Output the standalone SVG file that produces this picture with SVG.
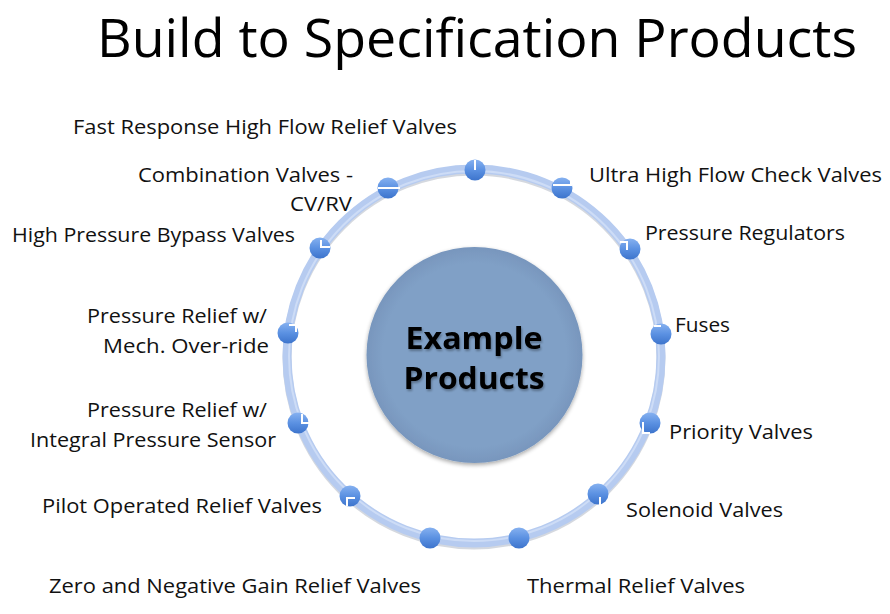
<svg xmlns="http://www.w3.org/2000/svg" width="890" height="614" viewBox="0 0 890 614">
<defs>
  <linearGradient id="dotGrad" x1="0" y1="0" x2="0" y2="1">
    <stop offset="0" stop-color="#86b1f0"/>
    <stop offset="0.5" stop-color="#5b91e2"/>
    <stop offset="1" stop-color="#3d74cc"/>
  </linearGradient>
  <radialGradient id="hubGrad" cx="0.5" cy="0.5" r="0.5">
    <stop offset="0.85" stop-color="#80a0c6"/>
    <stop offset="1" stop-color="#7896bd"/>
  </radialGradient>
  <filter id="shadow" x="-20%" y="-20%" width="140%" height="140%">
    <feGaussianBlur in="SourceAlpha" stdDeviation="2"/>
    <feOffset dx="0" dy="2" result="b"/>
    <feComponentTransfer><feFuncA type="linear" slope="0.35"/></feComponentTransfer>
    <feMerge><feMergeNode/><feMergeNode in="SourceGraphic"/></feMerge>
  </filter>
  <filter id="tshadow" x="-10%" y="-10%" width="120%" height="140%">
    <feGaussianBlur in="SourceAlpha" stdDeviation="1"/>
    <feOffset dx="1" dy="1.5"/>
    <feComponentTransfer><feFuncA type="linear" slope="0.3"/></feComponentTransfer>
    <feMerge><feMergeNode/><feMergeNode in="SourceGraphic"/></feMerge>
  </filter>
</defs>
<style>
  .title { font-family: "Open Sans", "Liberation Sans", sans-serif; font-size: 53px; fill: #000; }
  .lbl { font-family: "Open Sans", "Liberation Sans", sans-serif; font-size: 20px; fill: #111; }
  .hub { font-family: "Open Sans", "Liberation Sans", sans-serif; font-size: 30px; font-weight: bold; fill: #000; }
  .dot { fill: url(#dotGrad); }
  .notch { fill: none; stroke: #ffffff; stroke-width: 2; }
</style>
<rect width="890" height="614" fill="#ffffff"/>
<text class="title" x="97" y="57" textLength="760" lengthAdjust="spacingAndGlyphs">Build to Specification Products</text>

<g id="connectors">
  <circle cx="474" cy="358" r="187" fill="none" stroke="#c2c8d2" stroke-width="9" opacity="0.7"/>
  <circle cx="474" cy="356" r="187" fill="none" stroke="#b6cbf0" stroke-width="9"/>
  <circle cx="474" cy="356" r="185" fill="none" stroke="#cddcf6" stroke-width="2"/>
</g>

<g id="hub">
  <circle cx="474.5" cy="355" r="108" fill="url(#hubGrad)" filter="url(#shadow)"/>
  <g filter="url(#tshadow)">
    <text class="hub" x="474" y="349" text-anchor="middle" textLength="137" lengthAdjust="spacingAndGlyphs">Example</text>
    <text class="hub" x="474" y="389" text-anchor="middle" textLength="141" lengthAdjust="spacingAndGlyphs">Products</text>
  </g>
</g>

<g id="n1"><circle class="dot" cx="475" cy="170" r="10.5"/><path class="notch" d="M475,160 V170"/>
  <text class="lbl" x="73" y="134" textLength="384" lengthAdjust="spacingAndGlyphs">Fast Response High Flow Relief Valves</text></g>
<g id="n2"><circle class="dot" cx="562" cy="188" r="10.5"/><path class="notch" d="M553,185 H571 V181"/>
  <text class="lbl" x="589" y="182" textLength="293" lengthAdjust="spacingAndGlyphs">Ultra High Flow Check Valves</text></g>
<g id="n3"><circle class="dot" cx="630" cy="249" r="10.5"/><path class="notch" d="M620,242 H627 V250"/>
  <text class="lbl" x="645" y="240" textLength="200" lengthAdjust="spacingAndGlyphs">Pressure Regulators</text></g>
<g id="n4"><circle class="dot" cx="661" cy="334" r="10.5"/><path class="notch" d="M654,326 H661"/>
  <text class="lbl" x="675" y="332" textLength="55" lengthAdjust="spacingAndGlyphs">Fuses</text></g>
<g id="n5"><circle class="dot" cx="650" cy="423" r="10.5"/><path class="notch" d="M643,422 V433 H650"/>
  <text class="lbl" x="669" y="439" textLength="144" lengthAdjust="spacingAndGlyphs">Priority Valves</text></g>
<g id="n6"><circle class="dot" cx="598" cy="494" r="10.5"/><path class="notch" d="M600,497 V505"/>
  <text class="lbl" x="626" y="517" textLength="157" lengthAdjust="spacingAndGlyphs">Solenoid Valves</text></g>
<g id="n7"><circle class="dot" cx="519" cy="538" r="10.5"/>
  <text class="lbl" x="527" y="593" textLength="218" lengthAdjust="spacingAndGlyphs">Thermal Relief Valves</text></g>
<g id="n8"><circle class="dot" cx="430" cy="538" r="10.5"/>
  <text class="lbl" x="49" y="593" textLength="372" lengthAdjust="spacingAndGlyphs">Zero and Negative Gain Relief Valves</text></g>
<g id="n9"><circle class="dot" cx="350" cy="496" r="10.5"/><path class="notch" d="M355,498 H347 V506"/>
  <text class="lbl" x="42" y="513" textLength="280" lengthAdjust="spacingAndGlyphs">Pilot Operated Relief Valves</text></g>
<g id="n10"><circle class="dot" cx="298" cy="423" r="10.5"/><path class="notch" d="M302,414 V423 H309"/>
  <text class="lbl" x="87" y="417" textLength="180" lengthAdjust="spacingAndGlyphs">Pressure Relief w/</text>
  <text class="lbl" x="30" y="447" textLength="246" lengthAdjust="spacingAndGlyphs">Integral Pressure Sensor</text></g>
<g id="n11"><circle class="dot" cx="288" cy="333" r="10.5"/><path class="notch" d="M289,325 H296 V332"/>
  <text class="lbl" x="87" y="323" textLength="180" lengthAdjust="spacingAndGlyphs">Pressure Relief w/</text>
  <text class="lbl" x="103" y="353" textLength="166" lengthAdjust="spacingAndGlyphs">Mech. Over-ride</text></g>
<g id="n12"><circle class="dot" cx="320" cy="248" r="10.5"/><path class="notch" d="M321,240 V247 H330"/>
  <text class="lbl" x="12" y="242" textLength="283" lengthAdjust="spacingAndGlyphs">High Pressure Bypass Valves</text></g>
<g id="n13"><circle class="dot" cx="388" cy="188" r="10.5"/><path class="notch" d="M378,188 H400"/>
  <text class="lbl" x="138" y="182" textLength="215" lengthAdjust="spacingAndGlyphs">Combination Valves -</text>
  <text class="lbl" x="290" y="211" textLength="62" lengthAdjust="spacingAndGlyphs">CV/RV</text></g>
</svg>
